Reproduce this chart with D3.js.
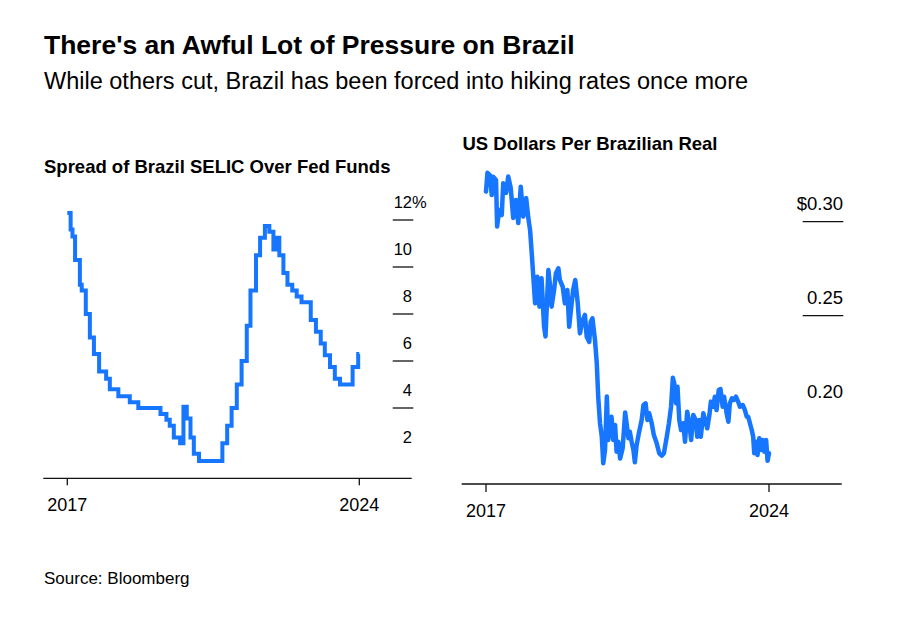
<!DOCTYPE html>
<html>
<head>
<meta charset="utf-8">
<script src="https://cdn.jsdelivr.net/npm/d3@7"></script>
<style>
  html, body { margin: 0; padding: 0; background: #fff; }
  svg { display: block; font-family: "Liberation Sans", Arial, Helvetica, sans-serif; }
</style>
</head>
<body>
<svg id="chart" width="900" height="629"></svg>
<script>
// ---------- DATA ----------
const titleText = "There's an Awful Lot of Pressure on Brazil";
const subtitleText = "While others cut, Brazil has been forced into hiking rates once more";
const sourceText = "Source: Bloomberg";
const leftTitle = "Spread of Brazil SELIC Over Fed Funds";
const rightTitle = "US Dollars Per Brazilian Real";

// x domain (decimal years) and tick labels
const xDomain = [2017.0, 2024.89];
const xTickPositions = [2017.0, 2024.89];
const xTickLabels = ["2017", "2024"];

// Spread (percentage points), step series: decimal year -> value
const spreadDates = [
  2017.00, 2017.09, 2017.14, 2017.21, 2017.34, 2017.39, 2017.50, 2017.61, 2017.72, 2017.86,
  2018.05, 2018.15, 2018.38, 2018.69, 2018.92, 2019.52, 2019.68, 2019.77, 2019.88, 2020.05,
  2020.14, 2020.23, 2020.33, 2020.42, 2020.56, 2021.19, 2021.32, 2021.44, 2021.58, 2021.71,
  2021.85, 2021.95, 2022.10, 2022.21, 2022.34, 2022.46, 2022.57, 2022.64, 2022.73, 2022.84,
  2022.95, 2023.08, 2023.20, 2023.33, 2023.58, 2023.72, 2023.85, 2023.96, 2024.10, 2024.23,
  2024.37, 2024.71, 2024.86, 2024.89
];
const spreadValues = [
  12.3, 11.6, 11.3, 10.3, 9.25, 9.0, 8.0, 7.0, 6.3, 5.55,
  5.25, 4.8, 4.5, 4.25, 4.0, 3.75, 3.5, 3.25, 2.75, 2.5,
  4.05, 3.55, 2.75, 2.05, 1.75, 2.5, 3.25, 4.0, 5.0, 6.0,
  7.5, 9.0, 10.5, 11.25, 11.75, 11.5, 10.75, 11.25, 10.5, 9.75,
  9.25, 9.0, 8.75, 8.5, 7.75, 7.25, 6.75, 6.25, 5.75, 5.25,
  5.0, 5.75, 6.3, 6.3
];
const spreadTicks = [2, 4, 6, 8, 10, 12];
const spreadTickLines = [4, 6, 8, 10, 12];
const spreadDomain = [0, 12];

// USD per BRL
const brlDates = [
  2017.00, 2017.04, 2017.11, 2017.16, 2017.20, 2017.28, 2017.31, 2017.37, 2017.44, 2017.48,
  2017.56, 2017.62, 2017.69, 2017.76, 2017.83, 2017.90, 2017.97, 2018.04, 2018.12, 2018.18,
  2018.23, 2018.27, 2018.32, 2018.37, 2018.43, 2018.49, 2018.55, 2018.62, 2018.66, 2018.74,
  2018.78, 2018.83, 2018.90, 2018.95, 2019.02, 2019.06, 2019.14, 2019.20, 2019.27, 2019.32,
  2019.39, 2019.43, 2019.49, 2019.56, 2019.62, 2019.70, 2019.76, 2019.81, 2019.88, 2019.92,
  2019.97, 2020.04, 2020.09, 2020.13, 2020.18, 2020.23, 2020.27, 2020.32, 2020.37, 2020.41,
  2020.46, 2020.50, 2020.55, 2020.60, 2020.64, 2020.69, 2020.74, 2020.81, 2020.88, 2020.92,
  2020.97, 2021.01, 2021.06, 2021.11, 2021.15, 2021.20, 2021.27, 2021.34, 2021.39, 2021.45,
  2021.50, 2021.55, 2021.62, 2021.68, 2021.76, 2021.83, 2021.90, 2021.96, 2022.04, 2022.10,
  2022.16, 2022.21, 2022.25, 2022.30, 2022.34, 2022.39, 2022.44, 2022.50, 2022.55, 2022.61,
  2022.67, 2022.72, 2022.78, 2022.85, 2022.89, 2022.95, 2022.99, 2023.06, 2023.11, 2023.17,
  2023.23, 2023.27, 2023.34, 2023.38, 2023.43, 2023.49, 2023.54, 2023.60, 2023.64, 2023.71,
  2023.76, 2023.80, 2023.86, 2023.91, 2023.97, 2024.03, 2024.08, 2024.16, 2024.22, 2024.27,
  2024.31, 2024.36, 2024.41, 2024.45, 2024.48, 2024.53, 2024.57, 2024.62, 2024.67, 2024.71,
  2024.76, 2024.81, 2024.85, 2024.89
];
const brlValues = [
  0.316, 0.326, 0.3248, 0.3142, 0.3239, 0.3222, 0.2975, 0.3062, 0.3036, 0.3204,
  0.3153, 0.3240, 0.3179, 0.3020, 0.3115, 0.2993, 0.3186, 0.3027, 0.3126, 0.3020,
  0.2956, 0.2849, 0.2707, 0.2566, 0.2707, 0.2548, 0.2699, 0.2441, 0.2390, 0.2743,
  0.2672, 0.2548, 0.2637, 0.2726, 0.2752, 0.2690, 0.2654, 0.2566, 0.2637, 0.2441,
  0.2566, 0.2637, 0.2690, 0.2566, 0.2406, 0.2477, 0.2504, 0.2388, 0.2360, 0.2468,
  0.2486, 0.2371, 0.2247, 0.2069, 0.1928, 0.1856, 0.1715, 0.1786, 0.2070, 0.1839,
  0.1919, 0.1963, 0.1839, 0.1919, 0.1777, 0.1830, 0.1740, 0.1795, 0.1985, 0.1928,
  0.1848, 0.1883, 0.1830, 0.1786, 0.1720, 0.1812, 0.1883, 0.1945, 0.2025, 0.2034,
  0.1945, 0.1981, 0.1928, 0.1865, 0.1821, 0.1768, 0.1755, 0.1768, 0.1856, 0.1928,
  0.2016, 0.2170, 0.2140, 0.2034, 0.2122, 0.1945, 0.1892, 0.1928, 0.1830, 0.1989,
  0.1928, 0.1839, 0.1972, 0.1945, 0.1856, 0.1945, 0.1856, 0.1981, 0.1945, 0.1901,
  0.1972, 0.2043, 0.2016, 0.2069, 0.1998, 0.2105, 0.2110, 0.2016, 0.2069, 0.1981,
  0.1936, 0.2034, 0.2061, 0.2052, 0.2069, 0.2043, 0.2016, 0.2025, 0.1998, 0.1963,
  0.1963, 0.1928, 0.1892, 0.1856, 0.1768, 0.1830, 0.1759, 0.1848, 0.1786, 0.1839,
  0.1777, 0.1839, 0.1728, 0.1768
];
const brlTicks = [0.20, 0.25, 0.30];
const brlTickLines = [0.25, 0.30];
const brlDomain = [0.15, 0.30];

// ---------- DRAWING ----------
const toDate = t => {
  const y = Math.floor(t);
  const s = new Date(y, 0, 1), e = new Date(y + 1, 0, 1);
  return new Date(+s + (t - y) * (e - s));
};

const svg = d3.select("#chart");
const lineColor = "#1776ff";
const ink = "#111";

svg.append("text").attr("x", 44).attr("y", 54)
  .attr("font-size", 26.5).attr("font-weight", "bold").attr("fill", "#000").text(titleText);
svg.append("text").attr("x", 44).attr("y", 89)
  .attr("font-size", 23.5).attr("fill", "#000").text(subtitleText);
svg.append("text").attr("x", 44).attr("y", 584)
  .attr("font-size", 17).attr("fill", "#000").text(sourceText);

// ---- Left panel ----
(function () {
  const x = d3.scaleTime().domain(xDomain.map(toDate)).range([67.3, 359.3]);
  const y = d3.scaleLinear().domain(spreadDomain).range([502, 220]);
  const g = svg.append("g");

  g.append("text").attr("x", 44).attr("y", 172.5)
    .attr("font-size", 18.5).attr("font-weight", "bold").attr("fill", "#000").text(leftTitle);

  g.selectAll("line.yt").data(spreadTickLines).join("line")
    .attr("x1", 392.7).attr("x2", 413.3)
    .attr("y1", d => y(d)).attr("y2", d => y(d))
    .attr("stroke", ink).attr("stroke-width", 1.3);
  g.selectAll("text.yl").data(spreadTicks).join("text")
    .attr("x", 412).attr("y", d => y(d) - 12)
    .attr("text-anchor", "end").attr("font-size", 16.5).attr("fill", "#000")
    .text(d => d);
  g.append("text").attr("x", 412).attr("y", y(12) - 12)
    .attr("font-size", 16.5).attr("fill", "#000").text("%");

  const axisY = 478.3;
  g.append("line").attr("x1", 43.3).attr("x2", 411.7).attr("y1", axisY).attr("y2", axisY)
    .attr("stroke", ink).attr("stroke-width", 1.3);
  const xt = xTickPositions.map((t, i) => ({ t: toDate(t), label: xTickLabels[i] }));
  g.selectAll("line.xt").data(xt).join("line")
    .attr("x1", d => x(d.t)).attr("x2", d => x(d.t))
    .attr("y1", axisY).attr("y2", axisY + 7)
    .attr("stroke", ink).attr("stroke-width", 1.3);
  g.selectAll("text.xl").data(xt).join("text")
    .attr("x", d => x(d.t)).attr("y", 511)
    .attr("text-anchor", "middle").attr("font-size", 18).attr("fill", "#000")
    .text(d => d.label);

  const data = spreadDates.map((t, i) => ({ t: toDate(t), v: spreadValues[i] }));
  const line = d3.line().x(d => x(d.t)).y(d => y(d.v)).curve(d3.curveStepAfter);
  g.append("path").datum(data).attr("d", line)
    .attr("fill", "none").attr("stroke", lineColor).attr("stroke-width", 4)
    .attr("stroke-linejoin", "miter").attr("stroke-linecap", "butt");
})();

// ---- Right panel ----
(function () {
  const x = d3.scaleTime().domain(xDomain.map(toDate)).range([486, 769]);
  const y = d3.scaleLinear().domain(brlDomain).range([221.7 + 94 * 3, 221.7]);
  const g = svg.append("g");

  g.append("text").attr("x", 462.5).attr("y", 150)
    .attr("font-size", 18.5).attr("font-weight", "bold").attr("fill", "#000").text(rightTitle);

  g.selectAll("line.yt").data(brlTickLines).join("line")
    .attr("x1", 802.7).attr("x2", 843.3)
    .attr("y1", d => y(d)).attr("y2", d => y(d))
    .attr("stroke", ink).attr("stroke-width", 1.3);
  g.selectAll("text.yl").data(brlTicks).join("text")
    .attr("x", 843).attr("y", d => y(d) - 12)
    .attr("text-anchor", "end").attr("font-size", 18.5).attr("fill", "#000")
    .text(d => (d === 0.30 ? "$" : "") + d3.format(".2f")(d));

  const axisY = 484;
  g.append("line").attr("x1", 461.7).attr("x2", 841.7).attr("y1", axisY).attr("y2", axisY)
    .attr("stroke", ink).attr("stroke-width", 1.3);
  const xt = xTickPositions.map((t, i) => ({ t: toDate(t), label: xTickLabels[i] }));
  g.selectAll("line.xt").data(xt).join("line")
    .attr("x1", d => x(d.t)).attr("x2", d => x(d.t))
    .attr("y1", axisY).attr("y2", axisY + 8)
    .attr("stroke", ink).attr("stroke-width", 1.3);
  g.selectAll("text.xl").data(xt).join("text")
    .attr("x", d => x(d.t)).attr("y", 517.3)
    .attr("text-anchor", "middle").attr("font-size", 18).attr("fill", "#000")
    .text(d => d.label);

  const data = brlDates.map((t, i) => ({ t: toDate(t), v: brlValues[i] }));
  const line = d3.line().x(d => x(d.t)).y(d => y(d.v));
  g.append("path").datum(data).attr("d", line)
    .attr("fill", "none").attr("stroke", lineColor).attr("stroke-width", 4.5)
    .attr("stroke-linejoin", "round").attr("stroke-linecap", "round");
})();
</script>
</body>
</html>
